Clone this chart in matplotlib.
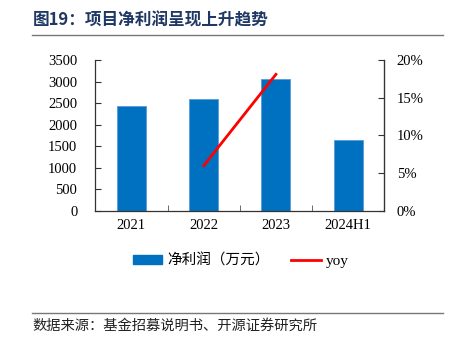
import matplotlib
matplotlib.use("Agg")
import matplotlib.pyplot as plt
from matplotlib.patches import Patch
from matplotlib.lines import Line2D
from matplotlib.ticker import FuncFormatter

categories = ["2021", "2022", "2023", "2024H1"]
net_profit = [2434, 2589, 3053, 1639]
yoy_cats = ["2022", "2023"]
yoy = [6.0, 18.1]
left_ticks = [0, 500, 1000, 1500, 2000, 2500, 3000, 3500]
right_ticks = [0, 5, 10, 15, 20]

title = "图19：项目净利润呈现上升趋势"
source = "数据来源：基金招募说明书、开源证券研究所"

CJK = ["Noto Sans CJK SC", "DejaVu Sans"]
SERIF = ["Liberation Serif", "Noto Sans CJK SC"]

fig = plt.figure(figsize=(4.5, 3.46), dpi=100)
ax = fig.add_axes([0.2118, 0.3902, 0.6422, 0.4364])
x = list(range(len(categories)))
ax.bar(x, net_profit, width=0.40, color="#0070C0", edgecolor="#5B9BD5", linewidth=0.6, zorder=2)
ax.set_xlim(-0.5, len(categories) - 0.5)
ax.set_ylim(0, 3500)
ax.set_yticks(left_ticks)
ax.set_xticks(x)
ax.set_xticklabels(categories)
ax.set_xticks([i + 0.5 for i in x[:-1]], minor=True)
ax.tick_params(axis="x", which="major", length=0, pad=6)
ax.tick_params(axis="x", which="minor", direction="in", length=4, color="#555555")
ax.tick_params(axis="y", direction="in", length=4, color="#333333", pad=13)
for lab in ax.get_xticklabels() + ax.get_yticklabels():
    lab.set_fontfamily(SERIF)
    lab.set_fontsize(10.5)
ax.spines["top"].set_visible(False)
for s in ["left", "bottom"]:
    ax.spines[s].set_color("#333333")
    ax.spines[s].set_linewidth(0.9)

ax2 = ax.twinx()
yx = [categories.index(c) for c in yoy_cats]
ax2.plot(yx, yoy, color="#FF0000", linewidth=2.0, zorder=3)
ax2.set_ylim(0, 20)
ax2.set_yticks(right_ticks)
ax2.yaxis.set_major_formatter(FuncFormatter(lambda v, p: f"{int(v)}%"))
ax2.tick_params(axis="y", direction="in", length=4, color="#333333", pad=9)
for lab in ax2.get_yticklabels():
    lab.set_fontfamily(SERIF)
    lab.set_fontsize(10.5)
ax2.spines["top"].set_visible(False)
ax2.spines["right"].set_color("#333333")
ax2.spines["right"].set_linewidth(0.9)
ax2.spines["left"].set_visible(False)
ax2.spines["bottom"].set_visible(False)

handles = [Patch(facecolor="#0070C0", edgecolor="#0070C0"),
           Line2D([0], [0], color="#FF0000", linewidth=2.0)]
leg = fig.legend(handles, ["净利润（万元）", "yoy"], loc="center", bbox_to_anchor=(0.535, 0.247),
                 ncol=2, frameon=False, handlelength=2.0, handleheight=0.6, columnspacing=1.5,
                 handletextpad=0.35, prop={"family": CJK, "size": 10.5})
leg.get_texts()[1].set_fontfamily(SERIF)
leg.get_texts()[1].set_fontsize(11)

fig.text(0.073, 0.942, title, fontsize=12, fontweight="bold", color="#1F3864",
         family=CJK, va="center", ha="left")
fig.add_artist(Line2D([0.071, 0.985], [0.899, 0.899], color="#777777", linewidth=1.0))
fig.add_artist(Line2D([0.071, 0.985], [0.095, 0.095], color="#777777", linewidth=1.0))
fig.text(0.073, 0.057, source, fontsize=10.3, color="#222222", family=CJK, va="center", ha="left")

fig.savefig("out.png", dpi=100)
